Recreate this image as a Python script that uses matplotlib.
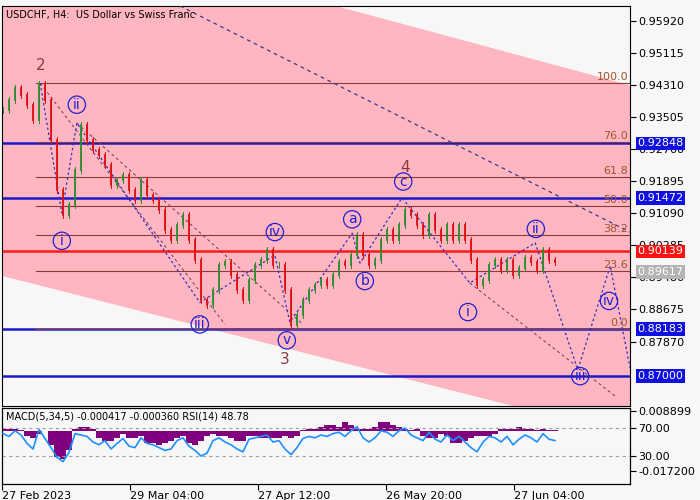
import matplotlib
matplotlib.use("Agg")
import matplotlib.pyplot as plt
import numpy as np
from matplotlib.patches import Polygon

closes = [0.9369,0.9394,0.9424,0.9406,0.9381,0.9344,0.9434,0.9394,0.9293,0.9168,0.9105,0.9130,0.9218,0.9331,
          0.9293,0.9268,0.9256,0.9231,0.9180,0.9193,0.9205,0.9168,0.9143,0.9193,0.9155,0.9143,0.9118,0.9067,
          0.9042,0.9080,0.9105,0.9042,0.8992,0.8892,0.8879,0.8917,0.8980,0.8987,0.8954,0.8917,0.8892,0.8942,
          0.8980,0.8992,0.9017,0.8980,0.8980,0.8917,0.8829,0.8854,0.8892,0.8917,0.8929,0.8942,0.8929,0.8954,
          0.8987,0.8980,0.9005,0.9055,0.9005,0.8980,0.8992,0.9042,0.9067,0.9042,0.9080,0.9118,0.9105,0.9080,
          0.9055,0.9105,0.9067,0.9042,0.9080,0.9042,0.9080,0.9042,0.8992,0.8929,0.8942,0.8980,0.8992,0.8967,
          0.8992,0.8954,0.8972,0.8997,0.8987,0.8967,0.9017,0.8992,0.8987]
macd = [0.001,0.001,0.001,0.0005,-0.002,-0.003,-0.001,0.0,-0.006,-0.011,-0.012,-0.008,0.001,0.002,
        0.002,0.001,-0.003,-0.004,-0.004,-0.003,-0.001,-0.003,-0.003,-0.002,-0.005,-0.005,-0.006,-0.005,
        -0.004,-0.003,-0.002,-0.005,-0.006,-0.004,-0.002,-0.001,-0.002,-0.002,-0.003,-0.004,-0.004,-0.002,
        -0.002,-0.003,-0.003,-0.003,-0.003,-0.002,-0.003,-0.002,0.0005,0.001,0.001,0.002,0.003,0.003,
        0.002,0.004,0.003,0.001,0.001,0.001,0.002,0.004,0.004,0.003,0.002,0.001,0.0005,0.001,
        -0.002,-0.003,-0.003,-0.001,-0.002,-0.005,-0.005,-0.004,-0.003,-0.002,-0.002,-0.002,-0.001,0.001,
        0.001,0.001,0.002,0.001,0.001,0.0005,0.001,0.0005,0.0005]
rsi = [62,58,66,60,48,40,68,55,42,28,22,35,62,60,58,50,46,52,40,48,55,44,42,56,48,46,42,38,
       40,52,56,44,38,30,34,52,56,50,46,40,36,54,56,58,60,50,52,40,32,42,55,58,56,60,58,62,
       64,58,66,72,56,50,56,66,64,58,66,70,60,56,52,64,54,50,60,52,58,50,42,36,50,58,56,50,
       58,46,54,60,56,50,62,54,52]
date_labels = ["27 Feb 2023", "29 Mar 04:00", "27 Apr 12:00", "26 May 20:00", "27 Jun 04:00"]
date_pos = [-0.17, 21.2, 42.5, 63.8, 85.2]
price_ticks = [0.95920,0.95115,0.94310,0.93505,0.92700,0.91895,0.91090,0.90285,0.89480,0.88675,0.87870]
blue_levels = [0.92848, 0.91472, 0.88183, 0.87000]
red_level = 0.90139
last_price = 0.89617
fib_labels = ["100.0","76.0","61.8","50.0","38.2","23.6","0.0"]
fib_ratios = [1.0,0.76,0.618,0.5,0.382,0.236,0.0]
fib_low, fib_high = 0.8818, 0.9436
wave_path_x = [6.2, 9.8, 12.3, 32.8, 45.3, 47.8, 58.2, 59.5, 66.5, 77.8, 88.7, 95.8, 101.2, 104.5]
wave_path_y = [0.9436,0.9110,0.9336,0.8885,0.9004,0.8836,0.9059,0.8984,0.9148,0.8934,0.9035,0.8716,0.8977,0.8721]
wave_lbl = ["i","ii","iii","iv","v","a","b","c","i","ii","iii","iv"]
wave_lx = [9.8,12.3,32.8,45.3,47.3,58.2,60.3,66.7,77.5,88.8,96.2,101.0]
wave_ly = [0.9040,0.9382,0.8830,0.9062,0.8790,0.9094,0.8939,0.9189,0.8861,0.9070,0.8700,0.8889]
big_lbl = ["2","3","4"]
big_lx = [6.2,47.0,67.0]
big_ly = [0.9481,0.8743,0.9224]

bg = "#f7f7f7"
fig = plt.figure(figsize=(7,5), dpi=100, facecolor=bg)
ax = fig.add_axes([2/700, 94/500, 628/700, 400/500], facecolor=bg)
xl = (-0.17, 104.5)
ax.set_xlim(*xl); ax.set_ylim(0.8625, 0.9630)

ax.add_patch(Polygon([[xl[0],0.9856],[xl[1],0.9431],[xl[1],0.8550],[xl[0],0.8952]], closed=True, fc="#ffb6c1", ec="none", zorder=0))
for lv in blue_levels:
    ax.axhline(lv, color="#1a1acc", lw=1.8, zorder=2)
ax.axhline(red_level, color="#ff1a1a", lw=1.8, zorder=2)
for lab, r in zip(fib_labels, fib_ratios):
    v = fib_low + r*(fib_high-fib_low)
    ax.plot([5.5, xl[1]], [v, v], color="#8b3a3a", lw=0.8, zorder=2)
    ax.text(xl[1]-0.3, v+0.0004, lab, color="#a0522d", fontsize=8, ha="right", va="bottom", zorder=5)

ax.plot([29.5, xl[1]], [0.9630, 0.9062], color="#3a3a8a", lw=0.9, ls=(0,(3,3)), zorder=3)
ax.plot([6.2, 37], [0.9436, 0.8830], color="#6a3a5a", lw=0.7, ls=(0,(3,3)), zorder=3)
ax.plot([12.3, 50], [0.9336, 0.8830], color="#6a3a5a", lw=0.7, ls=(0,(3,3)), zorder=3)
ax.plot([77.8, 102], [0.8934, 0.8650], color="#6a3a5a", lw=0.7, ls=(0,(3,3)), zorder=3)
ax.plot(wave_path_x, wave_path_y, color="#3030c0", lw=0.9, ls=(0,(2,2)), zorder=3)

opens = [closes[0]] + closes[:-1]
for i,(o,c) in enumerate(zip(opens, closes)):
    col = "#2e8b2e" if c >= o else "#e01010"
    hi = max(o,c)+0.0008; lo = min(o,c)-0.0008
    ax.plot([i,i],[lo,hi], color=col, lw=0.7, zorder=4)
    ax.plot([i,i],[o,c], color=col, lw=1.3, zorder=4)

for t, x, y in zip(wave_lbl, wave_lx, wave_ly):
    ax.text(x, y, t, color="#2020d0", fontsize=10, ha="center", va="center", zorder=6,
            bbox=dict(boxstyle="circle,pad=0.12", fc="none", ec="#2020d0", lw=0.9))
for t, x, y in zip(big_lbl, big_lx, big_ly):
    ax.text(x, y, t, color="#8b3a3a", fontsize=11, ha="center", va="center", zorder=6)

ax.text(0.5, 0.962, "USDCHF, H4:  US Dollar vs Swiss Franc", fontsize=7, va="top", ha="left", zorder=7)
ax.set_xticks([])
ax.yaxis.tick_right()
ax.set_yticks(price_ticks)
ax.set_yticklabels([f"{p:.5f}" for p in price_ticks], fontsize=8)
ax.tick_params(axis="y", length=4, pad=2)
for lv, fc in [(v, "#1010e0") for v in blue_levels] + [(red_level, "#ff1010"), (last_price, "#b4b4b4")]:
    ax.text(1.012, lv, f"{lv:.5f}", transform=ax.get_yaxis_transform(), fontsize=8, color="white", va="center", ha="left",
            bbox=dict(boxstyle="square,pad=0.15", fc=fc, ec="none"), zorder=8, clip_on=False)

ax2 = fig.add_axes([2/700, 16/500, 628/700, 76/500], facecolor=bg)
ax2.set_xlim(*xl); ax2.set_ylim(-0.0228, 0.0102)
ax2.bar(range(len(macd)), macd, width=1.0, color="#800080", zorder=2)
ax2.set_xticks(date_pos); ax2.set_xticklabels(date_labels, fontsize=8, ha="left")
ax2.tick_params(axis="x", length=4, pad=1)
ax3 = ax2.twinx()
ax3.set_ylim(-10, 98.6)
ax3.plot(range(len(rsi)), rsi, color="#1e90ff", lw=1.2, zorder=3)
ax3.axhline(70, color="#a0a0a0", lw=0.8, ls=(0,(3,3)))
ax3.axhline(30, color="#a0a0a0", lw=0.8, ls=(0,(3,3)))
ax3.set_yticks([70, 30]); ax3.set_yticklabels(["70.00", "30.00"], fontsize=8)
ax3.tick_params(axis="y", length=4, pad=2)
ax2.yaxis.tick_right()
ax2.yaxis.set_label_position("right")
ax2.set_yticks([0.008899, -0.0172]); ax2.set_yticklabels(["0.008899", "-0.017200"], fontsize=8)
ax2.tick_params(axis="y", length=4, pad=2)
ax3.text(0.5, 86, "MACD(5,34,5) -0.000417 -0.000360 RSI(14) 48.78", fontsize=7, va="center", ha="left", zorder=9)
fig.savefig("out.png", dpi=100, facecolor=bg)
